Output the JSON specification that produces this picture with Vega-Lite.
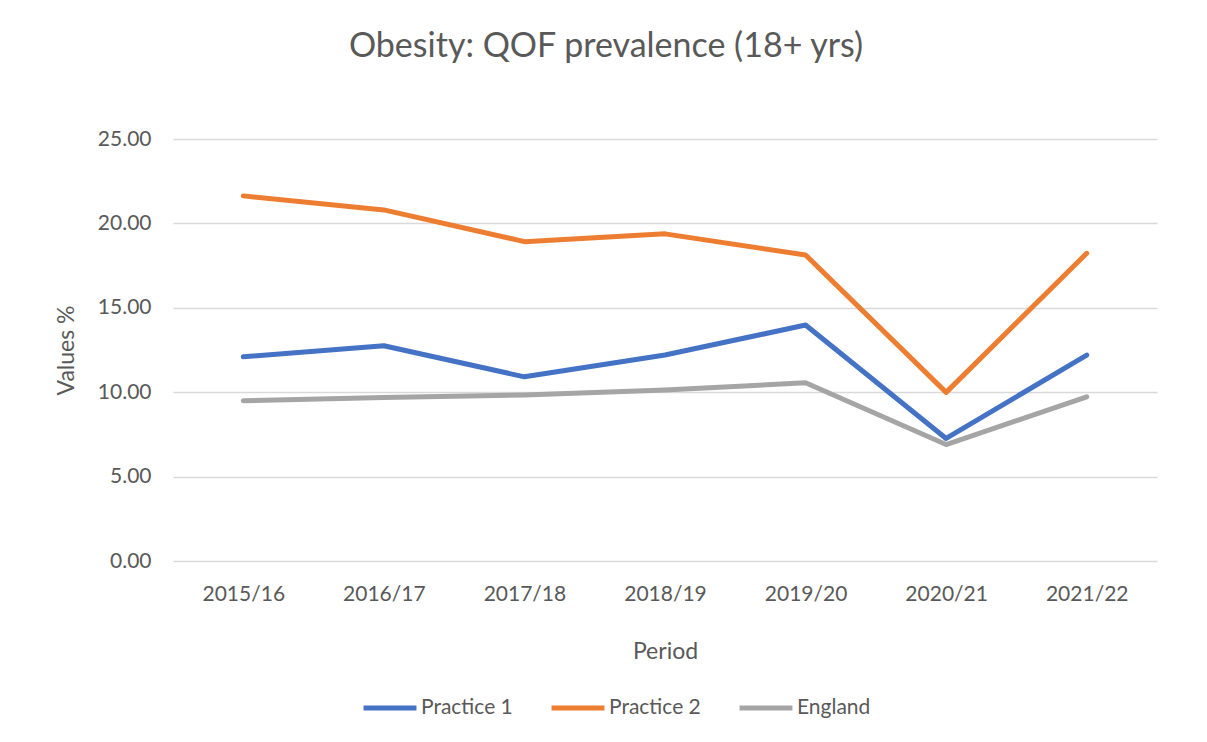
{
  "$schema": "https://vega.github.io/schema/vega-lite/v6.json",
  "width": 984,
  "height": 422,
  "autosize": "none",
  "padding": {"left": 173, "top": 139, "right": 50, "bottom": 181},
  "background": "white",
  "title": {
    "text": "Obesity: QOF prevalence (18+ yrs)",
    "font": "Lato",
    "fontSize": 34,
    "fontWeight": "normal",
    "color": "#595959",
    "anchor": "middle",
    "dx": -59,
    "offset": 64
  },
  "data": {
    "values": [
      {"Period": "2015/16", "Series": "Practice 1", "Value": 12.1},
      {"Period": "2016/17", "Series": "Practice 1", "Value": 12.75},
      {"Period": "2017/18", "Series": "Practice 1", "Value": 10.91},
      {"Period": "2018/19", "Series": "Practice 1", "Value": 12.2},
      {"Period": "2019/20", "Series": "Practice 1", "Value": 13.98},
      {"Period": "2020/21", "Series": "Practice 1", "Value": 7.26},
      {"Period": "2021/22", "Series": "Practice 1", "Value": 12.2},
      {"Period": "2015/16", "Series": "Practice 2", "Value": 21.63},
      {"Period": "2016/17", "Series": "Practice 2", "Value": 20.8},
      {"Period": "2017/18", "Series": "Practice 2", "Value": 18.92},
      {"Period": "2018/19", "Series": "Practice 2", "Value": 19.38},
      {"Period": "2019/20", "Series": "Practice 2", "Value": 18.13},
      {"Period": "2020/21", "Series": "Practice 2", "Value": 9.99},
      {"Period": "2021/22", "Series": "Practice 2", "Value": 18.23},
      {"Period": "2015/16", "Series": "England", "Value": 9.49},
      {"Period": "2016/17", "Series": "England", "Value": 9.69},
      {"Period": "2017/18", "Series": "England", "Value": 9.83},
      {"Period": "2018/19", "Series": "England", "Value": 10.13},
      {"Period": "2019/20", "Series": "England", "Value": 10.56},
      {"Period": "2020/21", "Series": "England", "Value": 6.9},
      {"Period": "2021/22", "Series": "England", "Value": 9.73}
    ]
  },
  "mark": {"type": "line", "strokeWidth": 5, "strokeCap": "round", "strokeJoin": "round"},
  "encoding": {
    "x": {
      "field": "Period",
      "type": "ordinal",
      "scale": {"type": "point", "padding": 0.5},
      "axis": {
        "title": "Period",
        "labelAngle": 0,
        "domain": false,
        "ticks": false,
        "grid": false,
        "labelPadding": 22,
        "titlePadding": 36
      }
    },
    "y": {
      "field": "Value",
      "type": "quantitative",
      "scale": {"domain": [0, 25]},
      "axis": {
        "title": "Values %",
        "values": [0, 5, 10, 15, 20, 25],
        "format": ".2f",
        "domain": false,
        "ticks": false,
        "labelPadding": 22,
        "titlePadding": 19
      }
    },
    "color": {
      "field": "Series",
      "type": "nominal",
      "sort": ["Practice 1", "Practice 2", "England"],
      "scale": {"domain": ["Practice 1", "Practice 2", "England"], "range": ["#4472C4", "#ED7D31", "#A5A5A5"]},
      "legend": {
        "title": null,
        "orient": "none",
        "direction": "horizontal",
        "legendX": 188,
        "legendY": 540,
        "symbolType": "stroke",
        "symbolSize": 2800,
        "symbolStrokeWidth": 5,
        "labelOffset": 2,
        "columnPadding": 28
      }
    }
  },
  "config": {
    "view": {"stroke": null},
    "font": "Lato",
    "axis": {
      "labelFont": "Lato",
      "labelFontSize": 21,
      "labelColor": "#595959",
      "titleFont": "Lato",
      "titleFontSize": 23,
      "titleFontWeight": "normal",
      "titleColor": "#595959",
      "gridColor": "#D9D9D9",
      "gridWidth": 1.5
    },
    "legend": {
      "labelFont": "Lato",
      "labelFontSize": 21,
      "labelColor": "#595959"
    }
  }
}
